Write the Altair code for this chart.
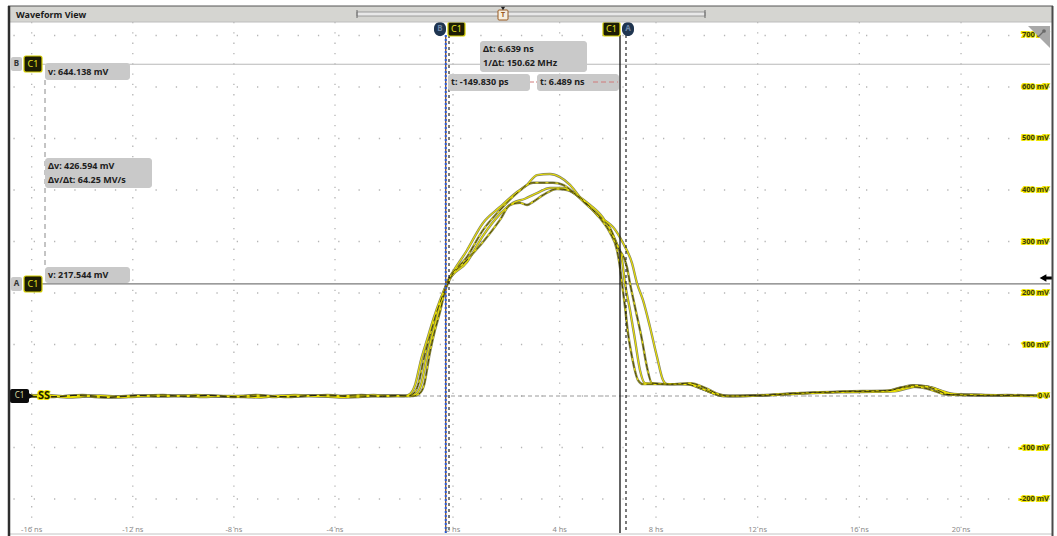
import altair as alt
import pandas as pd

# ---------------- data ----------------
t1 = [-16.86, -15.6, -14.5, -13.3, -12.3, -11.2, -10.1, -9.3, -8.2, -7.0, -6.1, -5.4, -4.4, -3.7, -2.8, -2.1,
      -1.670, -1.467, -1.298, -1.096, -0.893, -0.657, -0.454, -0.218,
      0.525, 1.125, 1.763, 2.401, 2.776, 3.151, 3.638, 4.013, 4.389, 4.764, 5.139, 5.514, 5.776,
      6.001, 6.376, 6.791, 7.043, 7.345, 7.697, 8.039, 8.275, 8.433,
      8.944, 9.338, 9.731, 10.124, 10.518, 10.911,
      12.1, 13.5, 15.2, 17.3, 17.8, 18.2, 18.7, 19.2, 19.6, 20.8, 21.5, 23.5]
v1 = [0, 1, -3, 1, -2, 0, 1, -2, 0, -3, 1, 0, -1, -3, 0, 1,
      0, 4, 21, 70, 109, 153, 186, 219,
      283, 336, 367, 396, 410, 429, 431, 425, 410, 386, 367, 346, 338,
      328, 297, 258, 219, 186, 134, 76, 31, 23,
      23, 23, 16, 8, 2, 0,
      1, 5, 8, 10, 16, 20, 18, 10, 4, 2, 1, 0]

t2 = [-16.86, -15.2, -14.3, -13.1, -12.0, -10.8, -9.9, -8.9, -7.6, -6.8, -5.8, -4.9, -4.0, -3.1, -2.4, -1.9,
      -1.568, -1.366, -1.197, -0.994, -0.792, -0.589, -0.386, -0.218,
      0.525, 1.125, 1.763, 2.401, 3.001, 3.376, 3.751, 4.126, 4.501, 5.026, 5.514, 5.889,
      6.189, 6.539, 6.690, 6.942, 7.295, 7.546, 7.798,
      8.551, 9.338, 9.928, 10.439, 10.833,
      12.3, 13.7, 15.4, 17.2, 17.7, 18.1, 18.6, 19.1, 19.5, 20.6, 21.8, 23.5]
v2 = [0, -2, 1, -3, 0, 2, -1, 1, -2, 0, -2, 1, 0, 2, -1, 0,
      0, 4, 21, 74, 117, 159, 192, 219,
      270, 322, 361, 394, 414, 414, 414, 410, 396, 371, 348, 326,
      289, 250, 219, 173, 109, 56, 25,
      23, 25, 16, 4, 0,
      2, 6, 9, 11, 17, 21, 19, 11, 3, 1, 2, 0]

t3 = [-16.86, -15.4, -14.6, -13.5, -12.6, -11.6, -10.4, -9.5, -8.5, -7.3, -6.4, -5.6, -4.6, -3.5, -2.7, -2.0,
      -1.467, -1.264, -1.096, -0.893, -0.690, -0.488, -0.319, -0.218,
      0.525, 1.125, 1.763, 2.251, 2.701, 3.151, 3.638, 4.126, 4.651, 5.139, 5.626,
      6.076, 6.339, 6.451, 6.690, 6.942, 7.194, 7.446,
      8.354, 9.259, 9.810, 10.321, 10.714,
      12.0, 13.4, 15.0, 17.4, 17.9, 18.3, 18.8, 19.3, 19.7, 20.9, 22.0, 23.5]
v3 = [0, 2, -1, 0, -3, 1, 0, 2, -1, 1, -2, 2, 0, -1, 2, 0,
      0, 4, 21, 78, 124, 167, 200, 219,
      260, 311, 353, 375, 383, 394, 404, 404, 390, 371, 346,
      303, 264, 219, 167, 109, 50, 25,
      23, 23, 14, 4, 0,
      1, 4, 7, 9, 15, 19, 17, 9, 4, 2, 1, 0]

t4 = [-16.86, -15.0, -14.0, -13.0, -11.9, -11.0, -10.2, -9.1, -8.0, -7.1, -6.2, -5.2, -4.3, -3.4, -2.6, -1.9,
      -1.366, -1.163, -0.994, -0.792, -0.623, -0.454, -0.285, -0.184,
      0.525, 1.125, 1.763, 2.138, 2.513, 2.776, 3.001, 3.376, 3.901, 4.276, 4.651, 5.139, 5.626,
      5.889, 6.152, 6.264, 6.339, 6.451, 6.590, 6.791, 7.093, 7.345,
      8.157, 9.141, 9.653, 10.203, 10.596,
      12.2, 13.6, 15.3, 17.1, 17.6, 18.0, 18.5, 19.0, 19.4, 20.5, 21.7, 23.5]
v4 = [0, -1, 2, -2, 1, -1, 0, 1, -2, 2, -1, 0, 2, -2, 0, 1,
      0, 4, 21, 85, 128, 163, 204, 219,
      264, 299, 342, 371, 375, 371, 377, 390, 402, 400, 390, 367, 338,
      317, 283, 250, 219, 173, 122, 76, 31, 23,
      23, 23, 17, 6, 0,
      1, 5, 8, 10, 16, 18, 16, 9, 3, 2, 1, 0]

x_ticks = [-16, -12, -8, -4, 0, 4, 8, 12, 16, 20]
x_tick_labels = ["-16 ns", "-12 ns", "-8 ns", "-4 ns", "0 ns", "4 ns", "8 ns", "12 ns", "16 ns", "20 ns"]
y_ticks = [700, 600, 500, 400, 300, 200, 100, 0, -100, -200]
y_tick_labels = ["700 mV", "600 mV", "500 mV", "400 mV", "300 mV", "200 mV", "100 mV", "0 V", "-100 mV", "-200 mV"]

cursor_v = [644.138, 217.544]      # B, A horizontal cursors
cursor_t = [-0.14983, 6.489]       # vertical cursors
marker_t = [-0.26, 6.264]          # solid reference lines

readouts = {
    "vB": "v: 644.138 mV",
    "dv": "\u0394v: 426.594 mV",
    "dvdt": "\u0394v/\u0394t: 64.25 MV/s",
    "vA": "v: 217.544 mV",
    "dt": "\u0394t: 6.639 ns",
    "inv": "1/\u0394t: 150.62 MHz",
    "t1": "t: -149.830 ps",
    "t2": "t: 6.489 ns",
}

# ---------------- build ----------------
W, H = 1040, 511
OX, OY = 10, 22
FONT = "Noto Sans"

xs = alt.Scale(domain=[-16.858, -4, -0.15, 6.489, 8, 23.5],
               range=[0, 325, 439, 616, 646, 1040], nice=False, zero=False)
ys = alt.Scale(domain=[-266.0, 726.2], nice=False, zero=False)

rows = []
for k, (tt, vv) in enumerate([(t1, v1), (t2, v2), (t3, v3), (t4, v4)], start=1):
    for i, (a, b) in enumerate(zip(tt, vv)):
        rows.append({"trace": k, "i": i, "t": a, "v": b})
wave = pd.DataFrame(rows)

dummy = alt.Data(values=[{"a": 1}])


def rect(x1, y1, x2, y2, fill, stroke=None, r=0, sw=1.0, opacity=1.0):
    kw = dict(fill=fill, cornerRadius=r, opacity=opacity)
    if stroke:
        kw.update(stroke=stroke, strokeWidth=sw)
    return alt.Chart(dummy).mark_rect(**kw).encode(
        x=alt.value(x1 - OX), x2=alt.value(x2 - OX), y=alt.value(y1 - OY), y2=alt.value(y2 - OY))


def text(s, x, y, size=9, color="#202020", weight="bold", align="left", stroke=None, sw=0.0):
    kw = dict(text=s, fontSize=size, fill=color, fontWeight=weight, align=align,
              baseline="middle", font=FONT)
    if stroke:
        kw.update(stroke=stroke, strokeWidth=sw)
    return alt.Chart(dummy).mark_text(**kw).encode(x=alt.value(x - OX), y=alt.value(y - OY))


def hline(x1, x2, y, color, w=1.0, dash=None):
    kw = dict(color=color, strokeWidth=w)
    if dash:
        kw["strokeDash"] = dash
    return alt.Chart(dummy).mark_rule(**kw).encode(
        x=alt.value(x1 - OX), x2=alt.value(x2 - OX), y=alt.value(y - OY))


def vline(x, y1, y2, color, w=1.0, dash=None):
    kw = dict(color=color, strokeWidth=w)
    if dash:
        kw["strokeDash"] = dash
    return alt.Chart(dummy).mark_rule(**kw).encode(
        x=alt.value(x - OX), y=alt.value(y1 - OY), y2=alt.value(y2 - OY))


def point(x, y, shape, size, color):
    return alt.Chart(dummy).mark_point(shape=shape, size=size, filled=True, fill=color,
                                       stroke=None, opacity=1).encode(
        x=alt.value(x - OX), y=alt.value(y - OY))


layers = []

# grid
layers.append(alt.Chart(pd.DataFrame({"t": x_ticks})).mark_rule(
    color="#b5b5b5", strokeWidth=1.3, strokeDash=[1.3, 9]).encode(
    x=alt.X("t:Q", scale=xs, axis=None)))
layers.append(alt.Chart(pd.DataFrame({"v": y_ticks})).mark_rule(
    color="#b5b5b5", strokeWidth=1.3, strokeDash=[1.3, 19]).encode(
    y=alt.Y("v:Q", scale=ys, axis=None)))

# zero reference (dashed)
layers.append(alt.Chart(pd.DataFrame({"v": [0]})).mark_rule(
    color="#9a9a9a", strokeWidth=1, strokeDash=[4, 3]).encode(
    y=alt.Y("v:Q", scale=ys, axis=None)))

# horizontal cursors
hc = pd.DataFrame({"v": cursor_v, "c": ["#b8b8b8", "#7a7a7a"]})
layers.append(alt.Chart(hc).mark_rule(strokeWidth=1.2).encode(
    y=alt.Y("v:Q", scale=ys, axis=None), color=alt.Color("c:N", scale=None),
    x=alt.value(42 - OX), x2=alt.value(W)))

# B-A connector
layers.append(vline(45, 80, 267, "#8a8a8a", 1, [5, 4]))

# waveforms
base = alt.Chart(wave).encode(
    x=alt.X("t:Q", scale=xs, axis=None), y=alt.Y("v:Q", scale=ys, axis=None),
    detail="trace:N", order="i:Q")
layers.append(base.mark_line(color="#6c6c46", strokeWidth=2.4, interpolate="monotone", opacity=0.85))
layers.append(base.mark_line(color="#ece200", strokeWidth=1.1, interpolate="monotone"))
layers.append(base.transform_filter("datum.trace == 2 || datum.trace == 4").mark_line(
    color="#151515", strokeWidth=0.8, strokeDash=[7, 3], interpolate="monotone"))

# vertical cursor lines
mk = pd.DataFrame({"t": marker_t, "c": ["#7a4a28", "#111111"]})
layers.append(alt.Chart(mk).mark_rule(strokeWidth=1.3).encode(
    x=alt.X("t:Q", scale=xs, axis=None), color=alt.Color("c:N", scale=None),
    y=alt.value(13), y2=alt.value(H)))
layers.append(alt.Chart(pd.DataFrame({"t": marker_t[:1]})).mark_rule(
    color="#2a5bd7", strokeWidth=2, strokeDash=[2, 2]).encode(
    x=alt.X("t:Q", scale=xs, axis=None), y=alt.value(13), y2=alt.value(H)))
layers.append(alt.Chart(pd.DataFrame({"t": cursor_t})).mark_rule(
    color="#111111", strokeWidth=1.1, strokeDash=[3, 3]).encode(
    x=alt.X("t:Q", scale=xs, axis=None), y=alt.value(13), y2=alt.value(H)))

# x tick labels
layers.append(alt.Chart(pd.DataFrame({"t": x_ticks, "s": x_tick_labels})).mark_text(
    fontSize=7.5, fill="#8a8a8a", font=FONT, baseline="middle").encode(
    x=alt.X("t:Q", scale=xs, axis=None), y=alt.value(530 - OY), text="s:N"))

# y tick labels (yellow halo + dark text)
yl = pd.DataFrame({"v": y_ticks, "s": y_tick_labels})
layers.append(alt.Chart(yl).mark_text(
    fontSize=7.5, fill="#ece400", stroke="#ece400", strokeWidth=2.2, font=FONT,
    fontWeight="bold", align="right", baseline="middle").encode(
    y=alt.Y("v:Q", scale=ys, axis=None), x=alt.value(1049 - OX), text="s:N"))
layers.append(alt.Chart(yl).mark_text(
    fontSize=7.5, fill="#3a3a10", font=FONT, fontWeight="bold", align="right",
    baseline="middle").encode(
    y=alt.Y("v:Q", scale=ys, axis=None), x=alt.value(1049 - OX), text="s:N"))

# readout boxes
BOX = "#c9c9c9"
layers += [
    rect(45, 63, 130, 80, BOX, r=3), text(readouts["vB"], 48, 72),
    rect(45, 158, 152, 188, BOX, r=3), text(readouts["dv"], 48, 166), text(readouts["dvdt"], 48, 180),
    rect(45, 267, 130, 283, BOX, r=3), text(readouts["vA"], 48, 275),
    rect(480, 41, 587, 72, BOX, r=3), text(readouts["dt"], 483, 49), text(readouts["inv"], 483, 63),
    rect(448, 74, 530, 91, BOX, r=3), text(readouts["t1"], 451, 82),
    rect(537, 74, 619, 91, BOX, r=3), text(readouts["t2"], 540, 82),
    hline(530, 537, 82, "#d07a7a", 1, [4, 2]),
    hline(593, 618, 82, "#d07a7a", 1, [5, 3]),
]

# left cursor tags
for lab, yc in [("B", 64), ("A", 284)]:
    layers += [
        rect(11, yc - 7, 22, yc + 7, "#c9c9c9", r=2), text(lab, 16.5, yc, 8, "#333", align="center"),
        rect(24, yc - 8, 42, yc + 8, "#1c1c05", stroke="#d6cf00", r=2, sw=1.2),
        text("C1", 33, yc, 9, "#e6e020", "normal", "center"),
    ]

# channel marker at 0 V
layers += [
    rect(10, 389, 29, 403, "#0c0c0c", r=2),
    point(30, 396, "triangle-right", 70, "#0c0c0c"),
    text("C1", 19.5, 396, 8, "#d8d8a0", "normal", "center"),
    text("SS", 38, 396, 11, "#f0e800", "bold", stroke="#f0e800", sw=2),
    text("SS", 38, 396, 11, "#202000", "bold"),
]

# top cursor handles
layers += [
    rect(434, 22, 446, 36, "#1f3550", r=6), text("B", 440, 29, 8, "#7088a8", "bold", "center"),
    rect(448, 22, 465, 36, "#1c1c05", stroke="#d6cf00", r=2, sw=1.2),
    text("C1", 456.5, 29, 9, "#e6e020", "normal", "center"),
    rect(603, 22, 620, 36, "#1c1c05", stroke="#d6cf00", r=2, sw=1.2),
    text("C1", 611.5, 29, 9, "#e6e020", "normal", "center"),
    rect(622, 22, 634, 36, "#1f3550", r=6), text("A", 628, 29, 8, "#7088a8", "bold", "center"),
]

# trigger arrow on the right
layers += [
    hline(1044, 1052, 278, "#000", 3),
    point(1043, 278, "triangle-left", 60, "#000"),
]

# top-right corner icon (triangle with a small pin)
layers.append(alt.Chart(dummy).mark_point(
    shape="M-1,-1L1,-1L1,1Z", size=484, filled=True, fill="#a8a8a8", stroke=None, opacity=1).encode(
    x=alt.value(1039 - OX), y=alt.value(37 - OY)))
layers.append(point(1044, 31, "circle", 14, "#6a6a6a"))
layers.append(alt.Chart(dummy).mark_rule(color="#6a6a6a", strokeWidth=1.2).encode(
    x=alt.value(1038 - OX), x2=alt.value(1043 - OX), y=alt.value(37 - OY), y2=alt.value(32 - OY)))

# title bar and frame
layers += [
    rect(8, 6, 1052, 22, "#d5d5d1"),
    text("Waveform View", 16, 14.5, 9, "#1a1a1a", "bold"),
    rect(357, 12, 705, 16, "#e8e8e8", stroke="#8a8a8a", sw=0.8),
    vline(357, 10, 18, "#666", 1), vline(705, 10, 18, "#666", 1),
    rect(498, 10, 508, 20, "#f6efe0", stroke="#9a5a20", r=1, sw=1),
    text("T", 503, 15, 7, "#9a5a20", "bold", "center"),
    point(503, 8.5, "triangle-down", 18, "#222"),
    hline(8, 1053, 6, "#555", 1),
    hline(8, 1053, 22, "#bdbdbd", 1),
    hline(8, 1053, 534, "#c4c4c4", 1),
    vline(9, 6, 536, "#2e2e2e", 2.5),
    vline(1052.5, 6, 536, "#4a4a4a", 2),
]

chart = alt.layer(*layers).properties(
    width=W, height=H,
    padding={"left": OX, "top": OY, "right": 1057 - OX - W, "bottom": 536 - OY - H},
    autosize=alt.AutoSizeParams(type="none"),
    background="white",
).configure_view(strokeWidth=0)

chart.save("out.html", embed_options={"renderer": "svg", "actions": False})
